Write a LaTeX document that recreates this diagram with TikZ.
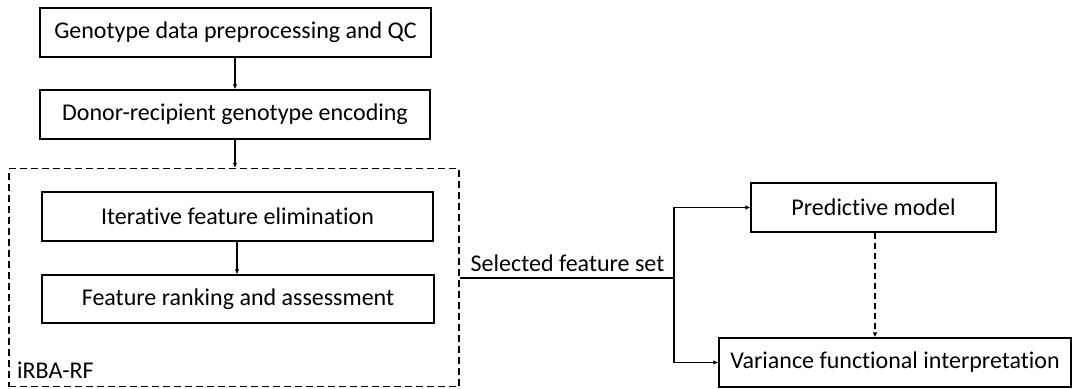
\documentclass[tikz,border=0pt]{standalone}
\usepackage{fontspec}
\setmainfont{Carlito}[RawFeature=-liga]
\usetikzlibrary{arrows.meta}
\begin{document}
\begin{tikzpicture}[x=1pt,y=-1pt,
  every node/.style={font=\fontsize{24}{28}\selectfont, inner sep=0pt},
  stepbox/.style={draw, line width=1.1pt, minimum height=49pt, anchor=center},
  group/.style={draw, line width=1.1pt, dash pattern=on 7pt off 4pt},
  link/.style={line width=1.1pt, -{Latex[length=5pt,width=4.5pt]}},
  optlink/.style={link, dash pattern=on 6pt off 4pt}]
\useasboundingbox (0,0) rectangle (1073,388);
% preprocessing chain
\node[stepbox, minimum width=391pt] (qc) at (235.5,32.5) {Genotype data preprocessing and QC};
\node[stepbox, minimum width=390pt] (enc) at (235,114.5) {Donor-recipient genotype encoding};
% iRBA-RF group
\node[group, minimum width=450pt, minimum height=218pt] (irba) at (234,277.5) {};
\node[stepbox, minimum width=391pt] (ife) at (237.5,216.5) {Iterative feature elimination};
\node[stepbox, minimum width=392pt, minimum height=48pt] (rank) at (238,299) {Feature ranking and assessment};
\node[anchor=west] (irbalbl) at (17,370) {iRBA-RF};
% outputs
\node[stepbox, minimum width=245pt] (pm) at (873.5,207.5) {Predictive model};
\node[stepbox, minimum width=352pt] (vfi) at (895,362.5) {Variance functional interpretation};
% connectors
\draw[link] (qc.south -| 235,0) -- (enc.north -| 235,0);
\draw[link] (enc.south -| 235,0) -- (irba.north -| 235,0);
\draw[link] (ife.south -| 237,0) -- (rank.north -| 237,0);
\coordinate (split) at (674,278);
\draw[line width=1.1pt] (irba.east |- split) -- (split);
\node[anchor=south] (sel) at (567.5,272) {Selected feature set};
\draw[link] (split) |- (pm.west);
\draw[link] (split) |- (vfi.west);
\draw[optlink] (pm.south -| 875,0) -- (vfi.north -| 875,0);
\end{tikzpicture}
\end{document}
